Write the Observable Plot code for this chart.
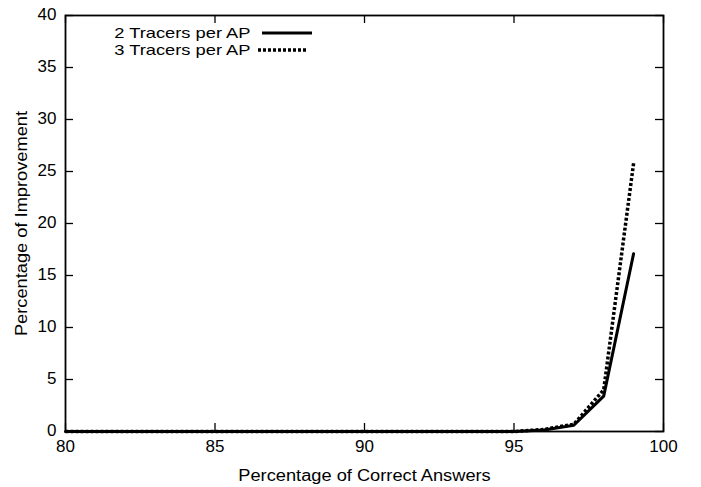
<!DOCTYPE html>
<html><head><meta charset="utf-8">
<script src="https://cdn.jsdelivr.net/npm/d3@7"></script>
<script src="https://cdn.jsdelivr.net/npm/@observablehq/plot@0.6"></script>
<style>body{margin:0;background:#fff;} #c{position:relative;width:701px;height:487px;}</style>
</head><body><div id="c"></div>
<script>
const xValues = [80,81,82,83,84,85,86,87,88,89,90,91,92,93,94,95,96,97,98,99];
const tracers2 = [0,0,0,0,0,0,0,0,0,0,0,0,0,0,0,0,0.15,0.6,3.4,17.1];
const tracers3 = [0,0,0,0,0,0,0,0,0,0,0,0,0,0,0,0,0.2,0.7,4.0,25.8];
const seriesNames = ["2 Tracers per AP","3 Tracers per AP"];
const xTicks = [80,85,90,95,100];
const yTicks = [0,5,10,15,20,25,30,35,40];

const W=701,H=487,ml=65,mr=38,mt=15,mb=56;
const pw=W-ml-mr, ph=H-mt-mb, tk=8;
const d2 = xValues.map((x,i)=>({x,y:tracers2[i]}));
const d3v = xValues.map((x,i)=>({x,y:tracers3[i]}));
const font = "'Liberation Sans', Arial, Helvetica, sans-serif";
const fs = 17;
const dash = "3,2";

const chart = Plot.plot({
  width:W,height:H,marginLeft:ml,marginRight:mr,marginTop:mt,marginBottom:mb,
  style:{fontFamily:font,fontSize:fs+"px",color:"#000",background:"#fff"},
  x:{domain:[80,100]},
  y:{domain:[0,40]},
  marks:[
    Plot.axisX(xTicks,{tickSize:0,tickPadding:8,fontSize:fs,label:null}),
    Plot.axisY(yTicks,{tickSize:0,tickPadding:9,fontSize:fs,label:null,dy:-1}),
    Plot.tickX(xTicks,{x:d=>d,insetTop:ph-tk,stroke:"#000",strokeWidth:1.3}),
    Plot.tickX(xTicks,{x:d=>d,insetBottom:ph-tk,stroke:"#000",strokeWidth:1.3}),
    Plot.tickY(yTicks,{y:d=>d,insetRight:pw-tk,stroke:"#000",strokeWidth:1.3}),
    Plot.tickY(yTicks,{y:d=>d,insetLeft:pw-tk,stroke:"#000",strokeWidth:1.3}),
    Plot.frame({stroke:"#000",strokeWidth:1.8}),
    Plot.line(d2,{x:"x",y:"y",stroke:"#000",strokeWidth:3}),
    Plot.line(d3v,{x:"x",y:"y",stroke:"#000",strokeWidth:3.5,strokeDasharray:dash,strokeLinecap:"butt",strokeLinejoin:"miter"}),
    Plot.text([seriesNames[0]],{text:d=>d,frameAnchor:"top-left",lineAnchor:"middle",dx:250-ml,dy:33-mt,textAnchor:"end",fontSize:15,className:"leg"}),
    Plot.text([seriesNames[1]],{text:d=>d,frameAnchor:"top-left",lineAnchor:"middle",dx:250-ml,dy:50-mt,textAnchor:"end",fontSize:15,className:"leg"}),
    Plot.text(["Percentage of Correct Answers"],{text:d=>d,frameAnchor:"bottom",lineAnchor:"middle",dy:44,fontSize:16,className:"lab"}),
    Plot.text(["Percentage of Improvement"],{text:d=>d,frameAnchor:"left",textAnchor:"middle",lineAnchor:"middle",dx:-44,rotate:-90,fontSize:16,className:"lab"})
  ]
});
const svg = d3.select(chart);
svg.append("line").attr("x1",262).attr("x2",312).attr("y1",33).attr("y2",33).attr("stroke","#000").attr("stroke-width",3);
svg.append("line").attr("x1",258).attr("x2",308).attr("y1",50).attr("y2",50).attr("stroke","#000").attr("stroke-width",3.5).attr("stroke-dasharray",dash);
document.getElementById("c").appendChild(chart);
function stretch(sel,k){
  svg.selectAll(sel).each(function(){
    const len=this.getComputedTextLength();
    this.setAttribute("textLength",(len*k).toFixed(1));
    this.setAttribute("lengthAdjust","spacingAndGlyphs");
  });
}
stretch("g.leg text",1.22);
stretch("g.lab text",1.14);
</script></body></html>
